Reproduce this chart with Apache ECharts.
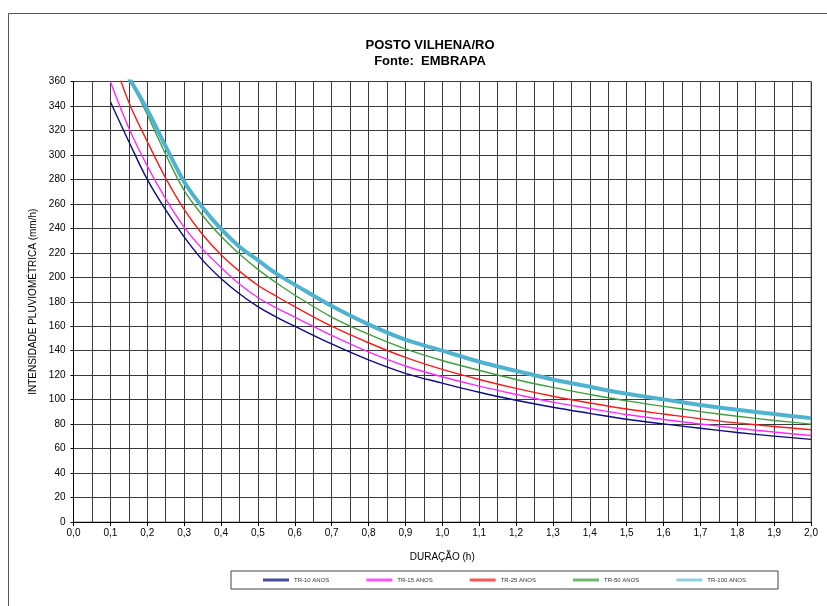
<!DOCTYPE html>
<html>
<head>
<meta charset="utf-8">
<script src="https://cdn.jsdelivr.net/npm/echarts@6/dist/echarts.min.js"></script>
<style>
html,body{margin:0;padding:0;background:#fff;}
#chart{width:827px;height:606px;}
</style>
</head>
<body>
<div id="chart"></div>
<script>
// Durations (h)
var durations = [0.10,0.15,0.20,0.25,0.30,0.35,0.40,0.45,0.50,0.55,0.60,0.70,0.80,0.90,1.00,1.10,1.20,1.30,1.40,1.50,1.60,1.70,1.80,1.90,2.00];
// Intensities (mm/h)
var tr10  = [343.5,311,280,255,233,214,199,186.5,176,167.5,160,145.5,132.5,121.5,113.5,106,99.5,93.8,88.8,84,80.2,76.6,73.2,70.2,67.5];
var tr15  = [360,322,291,264,241,223,208,194.5,183.5,175,167.5,152.5,139,127.5,118.7,111,104.3,98,92.8,87.8,83.8,80.1,76.6,73.5,70.7];
var tr25  = [386,343,311,281,255.5,235,218.5,205,193.5,184.5,176,160,146.5,134.5,124.7,116.5,109.2,102.8,97.3,92.3,88.3,84.3,81,78.1,75.4];
var tr50  = [null,364,333,300.5,271,250.5,233.5,219,206.5,195.5,185.5,167.5,153.5,141.5,132,124,116.5,110,104.3,99,94.5,90.2,86.4,83,80];
var tr100 = [null,363,337,307,278,257,239.5,225,214,203,194,176.5,161.5,149,140,131,123.5,116.5,110.5,104.8,100.2,95.7,91.7,88.2,84.9];

var seriesNames = ['TR-10 ANOS','TR-15 ANOS','TR-25 ANOS','TR-50 ANOS','TR-100 ANOS'];
var seriesValues = [tr10, tr15, tr25, tr50, tr100];
var colors = ['#0b0b86','#ff2cff','#ff1a1a','#3f9f3f','#4fb3cf'];
var legendColors = ['#4a4aa6','#ff55ff','#ff5555','#6fb96f','#8fd0e0'];
var widths = [1.4,1.4,1.4,1.4,4];

function pairs(vals){
  return durations.map(function(d,i){ return [d, vals[i]]; });
}

var series = seriesNames.map(function(n,i){
  return {
    name: n, type: 'line', data: pairs(seriesValues[i]),
    smooth: 0.35, symbol: 'none', clip: true,
    lineStyle: {color: colors[i], width: widths[i]},
    itemStyle: {color: colors[i]},
    z: 2 + i
  };
});

var chart = echarts.init(document.getElementById('chart'), null, {renderer:'canvas'});
var ff = '"Liberation Sans", Arial, sans-serif';
chart.setOption({
  animation: false,
  backgroundColor: '#fff',
  textStyle: {fontFamily: ff},
  graphic: [{
    type: 'rect', silent: true, z: -10,
    shape: {x: 8.5, y: 13.5, width: 900, height: 700},
    style: {fill: 'none', stroke: '#555', lineWidth: 1}
  }],
  title: {
    text: 'POSTO VILHENA/RO\nFonte:  EMBRAPA',
    left: 425, top: 32, textAlign: 'center',
    textStyle: {fontSize: 13, fontWeight: 'bold', color: '#000', lineHeight: 16, fontFamily: ff}
  },
  legend: {
    data: seriesNames.map(function(n,i){
      return {name: n, icon: 'rect', itemStyle: {color: legendColors[i]}};
    }),
    left: 231, top: 571,
    padding: [6, 32, 6, 32],
    itemWidth: 26, itemHeight: 3, itemGap: 37,
    borderColor: '#444', borderWidth: 1,
    textStyle: {fontSize: 6, color: '#333', fontFamily: ff}
  },
  grid: {
    left: 73.5, right: 16, top: 81.5, bottom: 84,
    show: true, borderColor: '#8a8a8a', borderWidth: 1, containLabel: false
  },
  xAxis: {
    type: 'value', min: 0, max: 2, interval: 0.1,
    name: 'DURAÇÃO (h)', nameLocation: 'middle', nameGap: 30,
    nameTextStyle: {fontSize: 10, color: '#000', fontFamily: ff},
    axisLine: {show: true, lineStyle: {color: '#000', width: 1}},
    axisTick: {show: true, length: 4, lineStyle: {color: '#000'}},
    axisLabel: {fontSize: 10, color: '#000', margin: 6,
      formatter: function(v){ return v.toFixed(1).replace('.', ','); }},
    splitLine: {show: true, lineStyle: {color: '#3a3a3a', width: 1}},
    minorTick: {show: false, splitNumber: 2},
    minorSplitLine: {show: true, lineStyle: {color: '#3a3a3a', width: 1}}
  },
  yAxis: {
    type: 'value', min: 0, max: 360, interval: 20,
    name: 'INTENSIDADE PLUVIOMÉTRICA (mm/h)', nameLocation: 'middle', nameGap: 31, nameRotate: 90,
    nameTextStyle: {fontSize: 10, color: '#000', fontFamily: ff},
    axisLine: {show: true, lineStyle: {color: '#000', width: 1}},
    axisTick: {show: true, length: 3, lineStyle: {color: '#000'}},
    axisLabel: {fontSize: 10, color: '#000', margin: 8},
    splitLine: {show: true, lineStyle: {color: '#3a3a3a', width: 1}}
  },
  series: series
});
</script>
</body>
</html>
